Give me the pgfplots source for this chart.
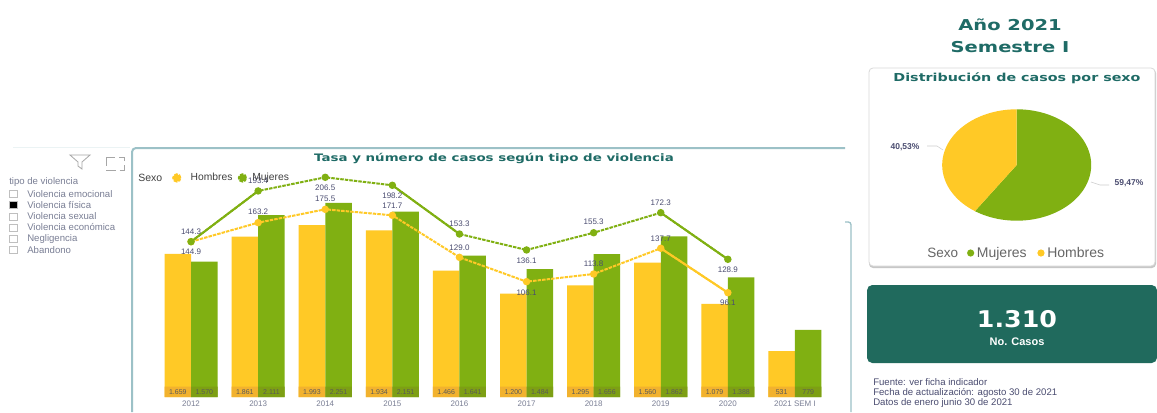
\documentclass[border=0pt]{standalone}
\usepackage{fontspec}
\usepackage{pgfplots}
\usepackage{pgfplotstable}
\pgfplotsset{compat=1.18}
\setmainfont{Liberation Sans}
\newfontfamily\wide[FakeStretch=1.3]{DejaVu Sans}
\newfontfamily\widek[FakeStretch=1.1]{DejaVu Sans}
\definecolor{yel}{HTML}{FFC926}
\definecolor{gre}{HTML}{80B012}
\definecolor{yelb}{HTML}{F2B22E}
\definecolor{greb}{HTML}{7D9F14}
\definecolor{teal1}{HTML}{1F6B66}
\definecolor{kpi}{HTML}{206A5D}
\definecolor{edge}{HTML}{9CC1C7}
\definecolor{lab}{HTML}{4A4C70}
\definecolor{gtxt}{HTML}{7A7F95}
\newcommand{\px}[1]{\fontsize{\fpeval{#1*0.75}pt}{\fpeval{#1*0.9}pt}}
\pgfplotsset{ratelabels/.style={visualization depends on={\thisrow{dy} \as \dy},nodes near coords,
  nodes near coords style={anchor=center,font=\px{8}\selectfont,text=lab,yshift=\dy pt}}}
\pgfplotstableread{
x hom muj band hlab mlab
0 1659 1570 120 1.659 1.570
1 1861 2111 120 1.861 2.111
2 1993 2251 120 1.993 2.251
3 1934 2151 120 1.934 2.151
4 1466 1641 120 1.466 1.641
5 1200 1484 120 1.200 1.484
6 1295 1656 120 1.295 1.656
7 1560 1862 120 1.560 1.862
8 1079 1388 120 1.079 1.388
9 531 779 120 531 779
}\bars
\pgfplotstableread{
x y lbl dy
0 144.7 144.3 7.5
1 193.0 193.4 7.5
2 206.0 206.5 -7.8
3 198.4 198.2 -8.0
4 152.0 153.3 7.5
5 136.8 136.1 -8.0
6 153.2 155.3 8.2
7 172.3 172.3 7.5
8 127.9 128.9 -8.0
}\lineM
\pgfplotstableread{
x y lbl dy
0 144.7 144.9 -7.7
1 162.8 163.2 8.2
2 175.5 175.5 7.7
3 169.8 171.7 7.2
4 129.8 129.0 7.5
5 106.6 106.1 -8.0
6 113.9 113.8 7.5
7 138.4 137.7 7.0
8 96.1 96.1 -7.5
}\lineH
\begin{document}
\begin{tikzpicture}
\begin{scope}[shift={(0,309pt)},x=0.75pt,y=-0.75pt]
\path[use as bounding box,fill=white] (0,0) rectangle (1157,412);
% panel frame
\draw[color=edge!20,line width=0.6pt] (13,147) -- (130,147);
\draw[color=edge,line width=1.5pt,rounded corners=3pt] (132,412) -- (132,148) -- (845,148);
\draw[color=edge,line width=1pt,rounded corners=2pt] (845,222) -- (851,222) -- (851,412);
% slicer
\draw[color=black!35,line width=0.6pt] (70,155) -- (90,155) -- (82,162) -- (82,169) -- (78,166) -- (78,162) -- cycle;
\draw[color=black!35,line width=0.6pt,dash pattern=on 7pt off 3pt] (106,157) rectangle (124,170);
\node[anchor=west,text=gtxt,inner sep=0pt,font=\px{9.6}\selectfont] at (9,182) {tipo de violencia};
\foreach \yy/\lb/\ff in {194/Violencia emocional/white,205/Violencia física/black,216.5/Violencia sexual/white,227.5/Violencia económica/white,239/Negligencia/white,250/Abandono/white}{
  \draw[color=black!25,line width=0.4pt,fill=\ff] (9,\yy-3.5) rectangle (17,\yy+3.5);
  \node[anchor=west,text=gtxt,inner sep=0pt,font=\px{9.6}\selectfont] at (27,\yy) {\lb};
}
% titles
\node[text=teal1,font=\wide\bfseries\px{10.3}\selectfont,inner sep=0pt] at (494,158) {Tasa y número de casos según tipo de violencia};
\node[anchor=west,inner sep=0pt,text=black!75,font=\px{10.5}\selectfont] at (138,178) {Sexo};
% right column
\node[text=teal1,font=\wide\bfseries\px{15}\selectfont,inner sep=0pt] at (1010,25) {Año 2021};
\node[text=teal1,font=\wide\bfseries\px{15}\selectfont,inner sep=0pt] at (1010,47) {Semestre I};
\fill[black!22,rounded corners=3pt] (869,69) rectangle (1156,268);
\draw[color=black!15,fill=white,line width=0.6pt,rounded corners=3pt] (869,68) rectangle (1155,266);
\node[text=teal1,font=\wide\bfseries\px{11}\selectfont,inner sep=0pt] at (1017,78) {Distribución de casos por sexo};
\fill[kpi,rounded corners=4pt] (867,285) rectangle (1157,363);
\node[text=white,font=\widek\bfseries\px{23}\selectfont,inner sep=0pt] at (1017,319) {1.310};
\node[text=white,font=\bfseries\px{11}\selectfont,inner sep=0pt] at (1017,342) {No. Casos};
\foreach \yy/\lb in {382/Fuente: ver ficha indicador,392.5/Fecha de actualización: agosto 30 de 2021,403/Datos de enero junio 30 de 2021}{
  \node[anchor=west,text=lab,inner sep=0pt,font=\px{9.6}\selectfont] at (873,\yy) {\lb};
}
% pie labels
\draw[color=black!20,line width=0.4pt] (927,146) -- (937,146) -- (943,150);
\draw[color=black!20,line width=0.4pt] (1091,182) -- (1100,185) -- (1109,185);
\node[text=lab,font=\bfseries\px{8.5}\selectfont,inner sep=0pt] at (905,147) {40,53\%};
\node[text=lab,font=\bfseries\px{8.5}\selectfont,inner sep=0pt] at (1129,183) {59,47\%};
\node[anchor=west,inner sep=0pt,text=black!60,font=\px{13.5}\selectfont] at (927,253) {Sexo};
\end{scope}
% bars
\begin{axis}[at={(118.125pt,11.25pt)},anchor=south west,scale only axis,width=503.25pt,height=185.25pt,
  xmin=-0.5,xmax=9.5,ymin=0,ymax=2865.2,axis lines=none,clip=false,
  ybar,bar width=19.9pt,
  point meta=explicit symbolic]
\addplot[fill=yel,draw=none,bar shift=-9.95pt] table[x=x,y=hom,meta=hlab]{\bars};
\addplot[fill=gre,draw=none,bar shift=9.95pt] table[x=x,y=muj,meta=mlab]{\bars};
\addplot[fill=yelb,draw=none,bar shift=-9.95pt,nodes near coords,nodes near coords align=center,
  nodes near coords style={anchor=center,yshift=-3.9pt,font=\px{7}\selectfont,text=black!65}] table[x=x,y=band,meta=hlab]{\bars};
\addplot[fill=greb,draw=none,bar shift=9.95pt,nodes near coords,nodes near coords align=center,
  nodes near coords style={anchor=center,yshift=-3.9pt,font=\px{7}\selectfont,text=black!65}] table[x=x,y=band,meta=mlab]{\bars};
\end{axis}
% lines, tick labels and legend
\begin{axis}[at={(118.125pt,11.25pt)},anchor=south west,scale only axis,width=503.25pt,height=185.25pt,
  xmin=-0.5,xmax=9.5,ymin=-3.24,ymax=232,clip=false,
  axis x line=bottom,axis y line=none,x axis line style={draw=none},
  xtick={0,...,9},xticklabels={2012,2013,2014,2015,2016,2017,2018,2019,2020,2021 SEM I},
  tick style={draw=none},
  xticklabel style={font=\px{8}\selectfont,text=gtxt,yshift=2.5pt},
  legend style={draw=none,fill=none,at={(0.0215,0.887)},anchor=west,font=\px{10.3}\selectfont,text=black!75,
    inner sep=0pt,/tikz/every even column/.append style={column sep=2pt}},
  legend columns=2,
  legend image code/.code={\fill[#1] (0.12cm,0) circle (2.7pt);},
  point meta=explicit symbolic]
\addplot[color=yel,line width=1.5pt,dash pattern=on 2.6pt off 0.8pt,mark=*,mark size=2pt,mark options={solid,fill=yel},ratelabels]
  table[x=x,y=y,meta=lbl]{\lineH};
\addlegendentry{\hspace{5pt}Hombres}
\addplot[color=gre,line width=1.5pt,dash pattern=on 2.6pt off 0.8pt,mark=*,mark size=2pt,mark options={solid,fill=gre},ratelabels]
  table[x=x,y=y,meta=lbl]{\lineM};
\addlegendentry{\hspace{2pt}Mujeres}
\addplot[color=gre,line width=1.5pt,forget plot] coordinates {(0,144.7) (1,193.0)};
\addplot[color=gre,line width=1.5pt,forget plot] coordinates {(3,198.4) (4,152.0)};
\addplot[color=gre,line width=1.5pt,forget plot] coordinates {(7,172.3) (8,127.9)};
\addplot[color=yel,line width=1.5pt,forget plot] coordinates {(7,138.4) (8,96.1)};
\end{axis}
% pie
\begin{axis}[at={(706.65pt,143.475pt)},anchor=south west,scale only axis,width=111.75pt,height=83.55pt,
  xmin=-1,xmax=1,ymin=-1,ymax=1,axis lines=none,clip=false,
  legend style={draw=none,fill=none,at={(0.165,-0.29)},anchor=west,font=\px{14}\selectfont,text=black!60,
    inner sep=0pt,/tikz/every even column/.append style={column sep=6pt}},
  legend columns=2,
  legend image code/.code={\fill[#1] (0.13cm,0) circle (2.7pt);}]
\addplot[fill=gre,draw=none,domain=0:59.47,samples=90] ({sin(3.6*x)},{cos(3.6*x)}) -- (axis cs:0,0) -- cycle;
\addlegendentry{Mujeres}
\addplot[fill=yel,draw=none,domain=59.47:100,samples=70] ({sin(3.6*x)},{cos(3.6*x)}) -- (axis cs:0,0) -- cycle;
\addlegendentry{Hombres}
\end{axis}
\end{tikzpicture}
\end{document}
